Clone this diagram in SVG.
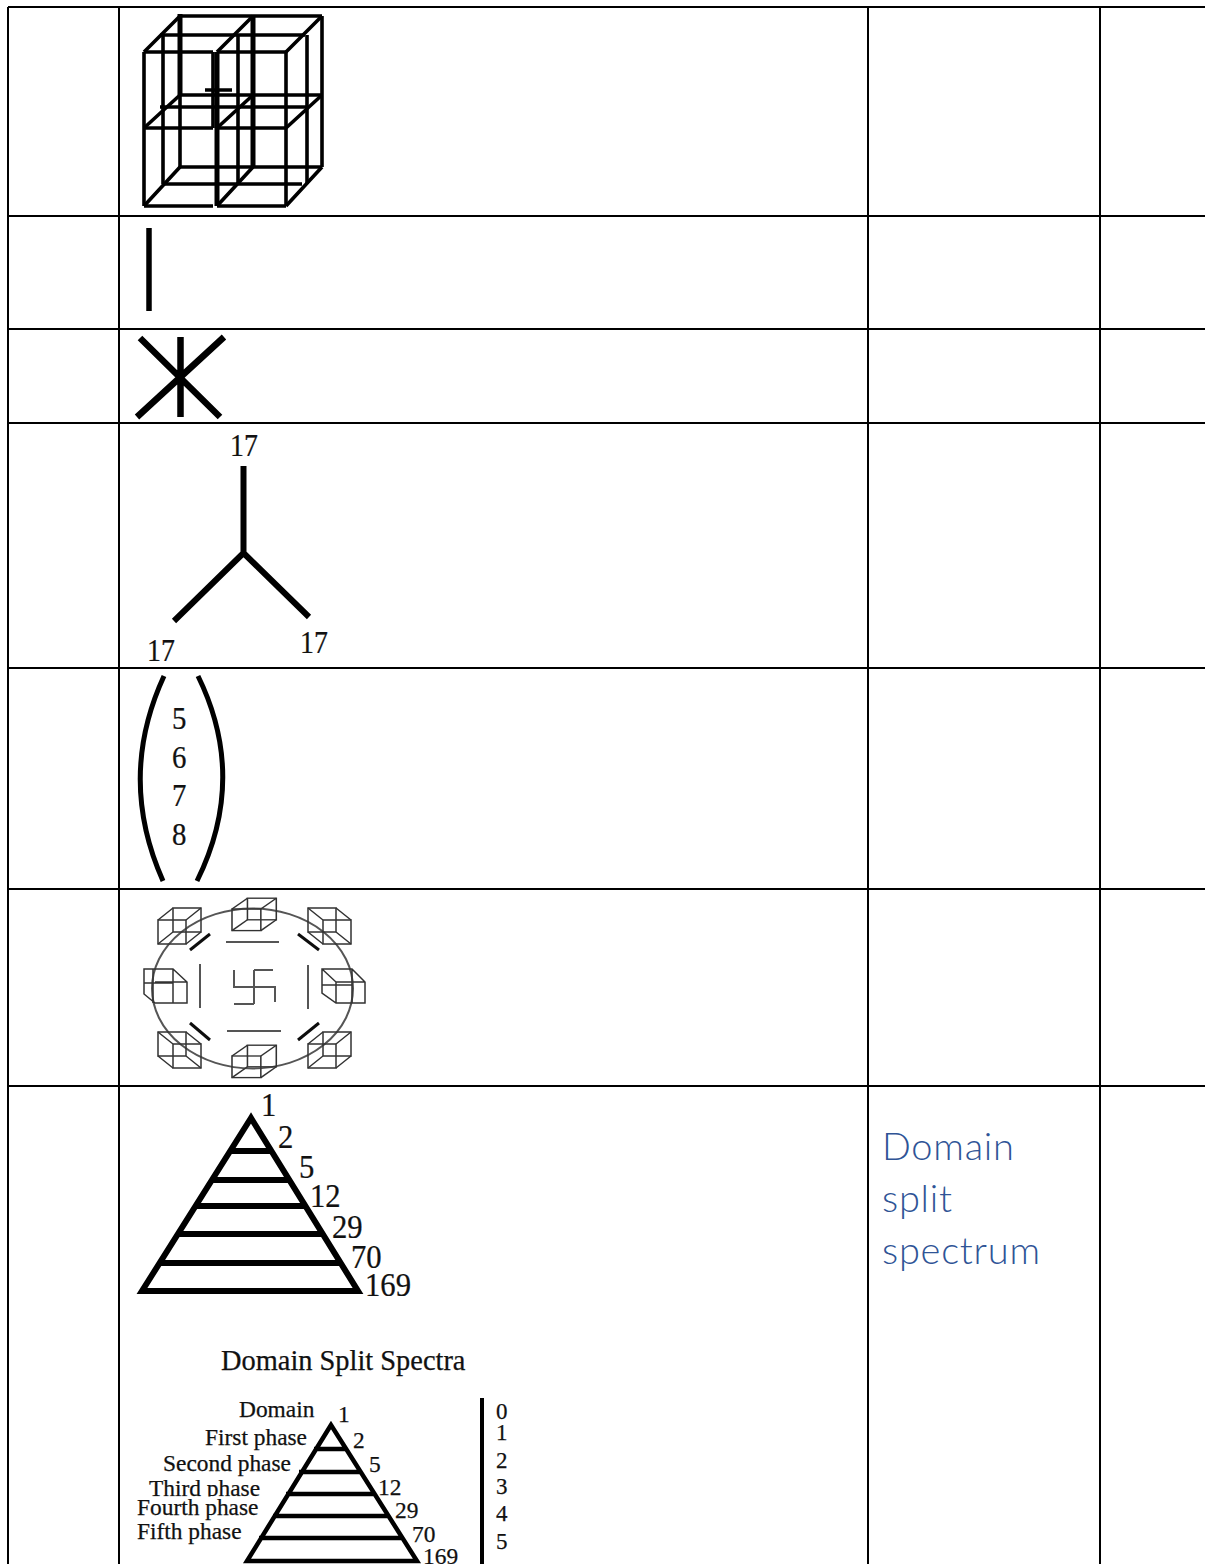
<svg xmlns="http://www.w3.org/2000/svg" xmlns:xlink="http://www.w3.org/1999/xlink" width="1205" height="1564" viewBox="0 0 1205 1564">
<style>
.grid{stroke:#000;stroke-width:2;fill:none}
.k{stroke:#000;fill:none;stroke-linecap:butt}
.t{font-family:"Liberation Serif","Times New Roman",serif;fill:#111;stroke:#111;stroke-width:.25}
.c{stroke:#333;stroke-width:1.5;fill:none}
.g{stroke:#555;stroke-width:2;fill:none}
.d{stroke:#111;stroke-width:3;fill:none}
</style>
<defs>
<filter id="soft" x="-5%" y="-5%" width="110%" height="110%"><feGaussianBlur stdDeviation="0.45"/></filter>
<clipPath id="third"><rect x="130" y="1470" width="140" height="26.5"/></clipPath>
<g id="cubeR"><rect x="0" y="0" width="28" height="24"/><rect x="15" y="-12" width="28" height="24"/><path d="M0 0L15-12M28 0L43-12M0 24L15 12M28 24L43 12"/></g>
<g id="cubeL"><rect x="0" y="0" width="28" height="24"/><rect x="15" y="12" width="28" height="24"/><path d="M0 0L15 12M28 0L43 12M0 24L15 36M28 24L43 36"/></g>
</defs>
<rect width="1205" height="1564" fill="#fff"/>
<g id="table" class="grid">
<path d="M8 7H1205M8 216H1205M8 329H1205M8 423H1205M8 668H1205M8 889H1205M8 1086H1205"/>
<path d="M8 7V1564M119 7V1564M868 7V1564M1100 7V1564"/>
</g>
<g id="cube-grid" class="k" filter="url(#soft)">
<g stroke-width="3.600">
<path d="M180 16H322M160 35H305M144 52H213M217 52H286M205 90H232M180 95H322M160 107H307M144 128H213M217 128H286M180 167H322M163 184H302M144 206H213M217 206H286"/>
<path d="M144 52V206M322 16V167M213 52V128M286 52V206M238 35V184M307 35V184M163 35V184M180 95V167"/>
<path d="M144 52L180 16M217 52L253 16M286 52L322 16M144 128L180 95M217 128L253 95M286 128L322 95M144 206L180 167M217 206L253 167M286 206L322 167"/>
</g>
<path stroke-width="5" d="M180 14V95M253 16V167M217 52V206"/>
</g>
<g id="single-line"><path class="k" stroke-width="5.500" d="M149 228V311"/></g>
<g id="star" class="k" stroke-width="6.500"><path d="M180.500 337V417M140 338L220 417M224 337L137 417"/></g>
<g id="trivalent">
<path class="k" stroke-width="6" d="M243.500 466V554M243.500 553L174 621M243.500 553L309 617"/>
<text class="t" font-size="31" transform="translate(230 456) scale(.9 1)">17</text>
<text class="t" font-size="31" transform="translate(147 661) scale(.9 1)">17</text>
<text class="t" font-size="31" transform="translate(300 653) scale(.9 1)">17</text>
</g>
<g id="column">
<path class="k" stroke-width="5" d="M164 676Q117 778 163 881M198 676Q248 778 197 881"/>
<text class="t" font-size="32" transform="translate(172 729) scale(.9 1)">5</text>
<text class="t" font-size="32" transform="translate(172 768) scale(.9 1)">6</text>
<text class="t" font-size="32" transform="translate(172 806) scale(.9 1)">7</text>
<text class="t" font-size="32" transform="translate(172 845) scale(.9 1)">8</text>
</g>
<g id="ring" filter="url(#soft)">
<ellipse class="g" cx="252.500" cy="988.500" rx="100.500" ry="80"/>
<use xlink:href="#cubeR" class="c" x="158" y="920"/>
<use xlink:href="#cubeR" class="c" transform="translate(232 909) scale(1.03 0.9)"/>
<use xlink:href="#cubeL" class="c" x="308" y="908"/>
<use xlink:href="#cubeL" class="c" x="158" y="1032"/>
<use xlink:href="#cubeR" class="c" transform="translate(232 1056) scale(1.03 0.9)"/>
<use xlink:href="#cubeR" class="c" x="308" y="1044"/>
<path class="c" d="M144 969H173L187 982V1003H155L144 994ZM144 969V994M153 969V1003M155 982H187M144 983H173M173 969V1003"/>
<path class="c" d="M365 982V1003H336L322 993V969H352L365 982ZM322 969L336 982V1003M336 982H365M352 969V1003M322 985H352"/>
<path class="d" d="M190 950L210 934M298 934L319 950M190 1023L210 1040M298 1040L319 1023"/>
<path class="g" d="M226 942H279M227 1031H281M200 964V1008M308 965V1009M234 970V987H275V1002M254 970V1004M254 970H273M234 1004H254"/>
</g>
<g id="pyramid-large">
<path class="k" stroke-width="6" d="M251 1118L142 1291H358ZM229 1151H272M212 1180H289M195 1206H305M178 1234H322M160 1263H341"/>
<g class="t" font-size="33">
<text transform="translate(261 1116) scale(.93 1)">1</text><text transform="translate(278 1148) scale(.93 1)">2</text><text transform="translate(299 1178) scale(.93 1)">5</text><text transform="translate(310 1207) scale(.93 1)">12</text><text transform="translate(332 1238) scale(.93 1)">29</text><text transform="translate(351 1268) scale(.93 1)">70</text><text transform="translate(365 1296) scale(.93 1)">169</text>
</g>
</g>
<g id="title"><text class="t" font-size="28.400" x="221" y="1370">Domain Split Spectra</text></g>
<g id="pyramid-small">
<path class="k" stroke-width="4.500" d="M331 1425L247 1561H417ZM314 1449H347M299 1472H361M286 1494H375M273 1516H389M259 1538H402"/>
<g class="t" font-size="23.400">
<text x="338" y="1422">1</text><text x="353" y="1448">2</text><text x="369" y="1472">5</text><text x="378" y="1495">12</text><text x="395" y="1518">29</text><text x="412" y="1542">70</text><text x="423" y="1564">169</text>
<text x="239" y="1417">Domain</text>
<text x="205" y="1445">First phase</text>
<text x="163" y="1471">Second phase</text>
<text x="149" y="1496" clip-path="url(#third)">Third phase</text>
<text x="137" y="1515">Fourth phase</text>
<text x="137" y="1539">Fifth phase</text>
</g>
</g>
<g id="scale">
<path class="k" stroke-width="4" d="M482 1398V1564"/>
<g class="t" font-size="23">
<text x="496" y="1419">0</text><text x="496" y="1440">1</text><text x="496" y="1468">2</text><text x="496" y="1494">3</text><text x="496" y="1521">4</text><text x="496" y="1549">5</text>
</g>
</g>
<g id="label" font-family="Lato,'Open Sans',sans-serif" font-weight="300" font-size="38" letter-spacing=".75" fill="#2f5496">
<text x="882" y="1160">Domain</text><text x="882" y="1212">split</text><text x="882" y="1264">spectrum</text>
</g>
</svg>
